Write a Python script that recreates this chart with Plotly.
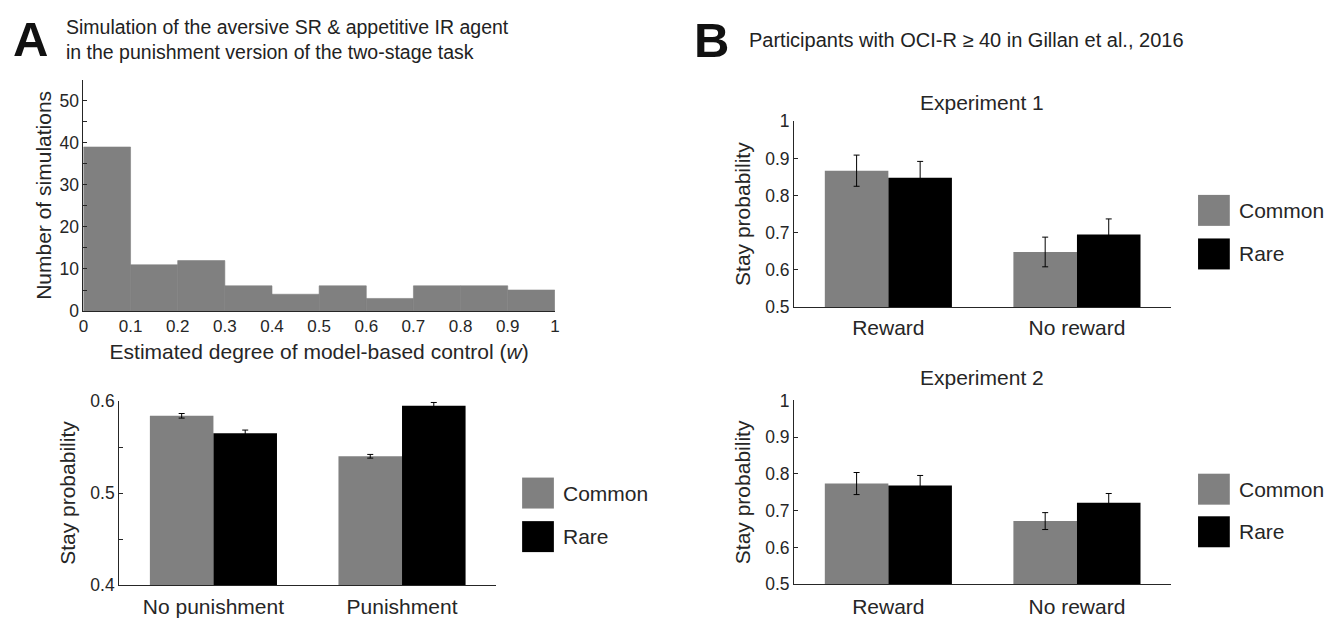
import plotly.graph_objects as go

# ---------------- data ----------------
hist_edges = [0.0, 0.1, 0.2, 0.3, 0.4, 0.5, 0.6, 0.7, 0.8, 0.9, 1.0]
hist_counts = [39, 11, 12, 6, 4, 6, 3, 6, 6, 5]

sim_categories = ["No punishment", "Punishment"]
sim_common = [0.584, 0.540]
sim_common_err = [0.0025, 0.002]
sim_rare = [0.565, 0.595]
sim_rare_err = [0.0035, 0.0035]

exp_categories = ["Reward", "No reward"]
exp1_common = [0.867, 0.648]
exp1_common_err = [0.042, 0.040]
exp1_rare = [0.848, 0.695]
exp1_rare_err = [0.044, 0.042]
exp2_common = [0.774, 0.672]
exp2_common_err = [0.030, 0.023]
exp2_rare = [0.769, 0.722]
exp2_rare_err = [0.027, 0.025]

series_names = ["Common", "Rare"]
series_colors = ["#808080", "#000000"]

# ---------------- layout helpers ----------------
W, H = 1342, 626
FONT = "Liberation Sans, Arial, Helvetica, sans-serif"
TXT = "#262626"


def px(x):
    return x / W


def py(y):
    return 1 - y / H


fig = go.Figure()

# histogram
centers = [(a + b) / 2 for a, b in zip(hist_edges[:-1], hist_edges[1:])]
widths = [b - a for a, b in zip(hist_edges[:-1], hist_edges[1:])]
fig.add_trace(go.Bar(x=centers, y=hist_counts, width=widths,
                     marker=dict(color="#808080", line=dict(width=0.6, color="#808080")),
                     showlegend=False, xaxis="x", yaxis="y"))

panels = [
    ("x2", "y2", sim_categories, [sim_common, sim_rare], [sim_common_err, sim_rare_err]),
    ("x3", "y3", exp_categories, [exp1_common, exp1_rare], [exp1_common_err, exp1_rare_err]),
    ("x4", "y4", exp_categories, [exp2_common, exp2_rare], [exp2_common_err, exp2_rare_err]),
]
for xa, ya, cats, vals, errs in panels:
    for name, col, v, e in zip(series_names, series_colors, vals, errs):
        fig.add_trace(go.Bar(x=cats, y=v, name=name, showlegend=False,
                             marker=dict(color=col, line=dict(width=0)),
                             error_y=dict(type="data", array=e, color="#000000",
                                          thickness=1, width=3),
                             xaxis=xa, yaxis=ya))

axis_common = dict(showline=True, linecolor=TXT, linewidth=1, showgrid=False,
                   zeroline=False, tickfont=dict(family=FONT, size=17.5, color=TXT),
                   title_font=dict(family=FONT, size=21, color=TXT))
cat_font = dict(family=FONT, size=21, color=TXT)

hist_ticks_x = [i / 10 for i in range(11)]
hist_ticks_y = list(range(0, 56, 5))
prob_ticks = [0.5, 0.6, 0.7, 0.8, 0.9, 1.0]
prob_text = ["0.5", "0.6", "0.7", "0.8", "0.9", "1"]

fig.update_layout(
    width=W, height=H, margin=dict(l=0, r=0, t=0, b=0),
    paper_bgcolor="white", plot_bgcolor="white",
    barmode="group", bargap=0.326, bargroupgap=0,
    font=dict(family=FONT, color=TXT),
    xaxis=dict(axis_common, domain=[px(79), px(554)], range=[0, 1],
               tickvals=hist_ticks_x,
               ticktext=["0" if t == 0 else ("1" if t == 1 else f"{t:.1f}") for t in hist_ticks_x],
               ticks="", tickfont=dict(family=FONT, size=17, color=TXT),
               title=dict(text="Estimated degree of model-based control (<i>w</i>)", standoff=8),
               anchor="y"),
    yaxis=dict(axis_common, domain=[py(311), py(72)], range=[0, 55],
               tickvals=hist_ticks_y,
               ticktext=[str(t) if t % 10 == 0 else "" for t in hist_ticks_y],
               ticks="inside", ticklen=4, tickcolor=TXT,
               title=dict(text="Number of simulations", standoff=2), anchor="x"),
    xaxis2=dict(axis_common, domain=[px(115), px(495)], range=[-0.5, 1.5],
                ticks="", tickfont=cat_font, ticklabelstandoff=3, anchor="y2"),
    yaxis2=dict(axis_common, domain=[py(594), py(404)], range=[0.4, 0.6],
                tickvals=[0.4, 0.45, 0.5, 0.55, 0.6],
                ticktext=["0.4", "", "0.5", "", "0.6"],
                ticks="inside", ticklen=4, tickcolor=TXT,
                title=dict(text="Stay probability", standoff=8), anchor="x2"),
    xaxis3=dict(axis_common, domain=[px(795), px(1175)], range=[-0.5, 1.5],
                ticks="", tickfont=cat_font, ticklabelstandoff=2, anchor="y3"),
    yaxis3=dict(axis_common, domain=[py(306.7), py(115)], range=[0.5, 1.0],
                tickvals=prob_ticks, ticktext=prob_text,
                ticks="inside", ticklen=4, tickcolor=TXT,
                title=dict(text="Stay probability", standoff=8), anchor="x3"),
    xaxis4=dict(axis_common, domain=[px(795), px(1175)], range=[-0.5, 1.5],
                ticks="", tickfont=cat_font, ticklabelstandoff=3, anchor="y4"),
    yaxis4=dict(axis_common, domain=[py(593.3), py(403.3)], range=[0.5, 1.0],
                tickvals=prob_ticks, ticktext=prob_text,
                ticks="inside", ticklen=4, tickcolor=TXT,
                title=dict(text="Stay probability", standoff=8), anchor="x4"),
)

ann = []
shapes = []


def text_ann(text, x, y, size, color=TXT, xanchor="left"):
    return dict(text=text, x=px(x), y=py(y), xref="paper", yref="paper",
                xanchor=xanchor, yanchor="middle", showarrow=False, align="left",
                font=dict(family=FONT, size=size, color=color))


# panel letters and headers
ann.append(text_ann("<b>A</b>", 6, 30, 49, "#111"))
ann.append(text_ann("Simulation of the aversive SR &amp; appetitive IR agent<br>"
                    "in the punishment version of the two-stage task", 59, 30, 19.5, "#222"))
ann.append(text_ann("<b>B</b>", 692, 31, 49, "#111"))
ann.append(text_ann("Participants with OCI-R ≥ 40 in Gillan et al., 2016", 748, 31, 20, "#222"))
# subplot titles
ann.append(text_ann("Experiment 1", 984, 96, 21, TXT, "center"))
ann.append(text_ann("Experiment 2", 984, 380, 21, TXT, "center"))

# legends (boxes + labels)
legend_pos = [(521, 483, 528), (1202, 191, 236), (1202, 479, 523)]
for lx, ly1, ly2 in legend_pos:
    for name, col, ly in zip(series_names, series_colors, [ly1, ly2]):
        shapes.append(dict(type="rect", xref="paper", yref="paper",
                           x0=px(lx), x1=px(lx + 32), y0=py(ly + 32), y1=py(ly),
                           fillcolor=col, line=dict(width=0)))
        ann.append(text_ann(name, lx + 39, ly + 16, 21))

fig.update_layout(annotations=ann, shapes=shapes)
fig.write_html("out.html", config={"displayModeBar": False},
               post_script="document.body.style.margin='0';")
